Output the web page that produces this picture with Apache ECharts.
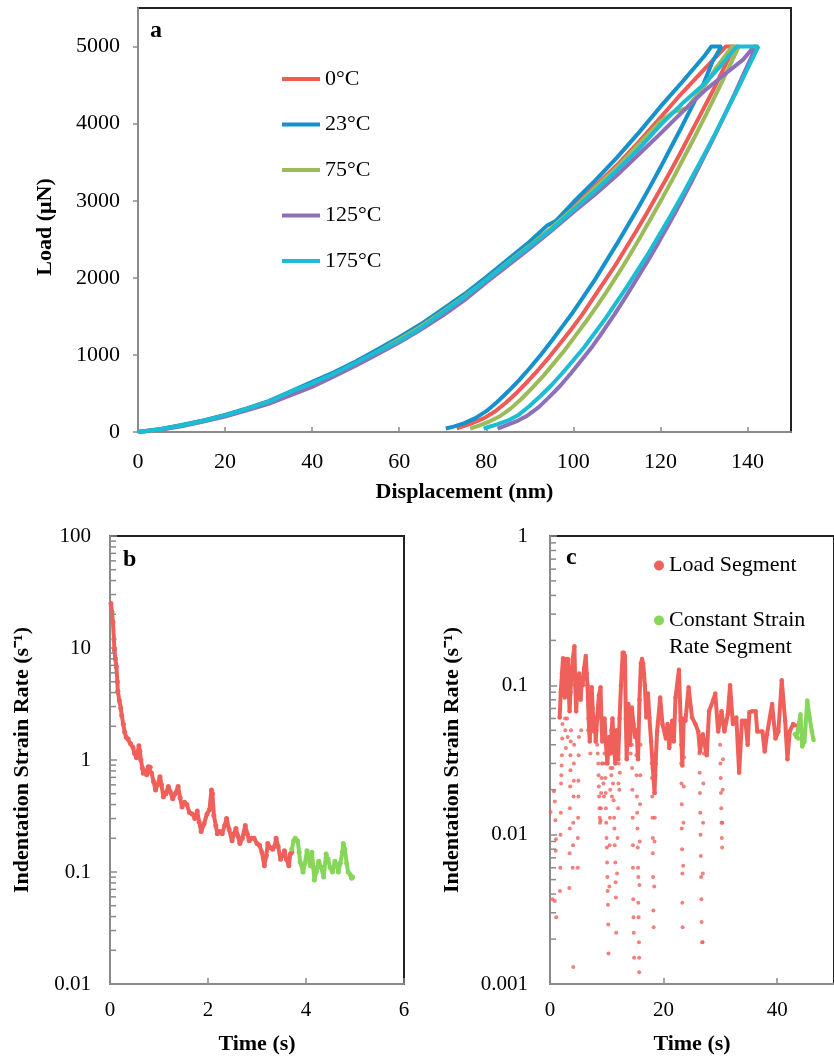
<!DOCTYPE html>
<html>
<head>
<meta charset="utf-8">
<script src="https://cdn.jsdelivr.net/npm/echarts@6/dist/echarts.min.js"></script>
<style>html,body{margin:0;padding:0;background:#fff}#chart{width:834px;height:1057px}</style>
</head>
<body>
<div id="chart"></div>
<script>
// ---------- Panel a: load–displacement curves [displacement nm, load µN] ----------
const curve0C = [[0,0],[5,35],[10,85],[15,145],[20,215],[25,300],[30,395],[35,515],[40,640],[45,765],[50,905],[55,1060],[60,1220],[65,1390],[70,1585],[75,1780],[80,2000],[85,2220],[90,2440],[95,2640],[100,2920],[105,3190],[110,3460],[115,3760],[120,4080],[125,4400],[130,4700],[135,5000],[137,5000],
  [134.5,4710],[132,4420],[129.5,4150],[127,3880],[124.5,3610],[122,3350],[119.5,3100],[117,2850],[114.5,2610],[112,2380],[109.5,2150],[107,1940],[104.5,1730],[102,1520],[99.5,1330],[97,1150],[94.5,975],[92,810],[89.5,655],[87,510],[84.5,380],[82,265],[79.5,180],[77,120],[75,80],[73.2,48]];
const curve23C = [[0,0],[5,35],[10,90],[15,150],[20,220],[25,305],[30,400],[35,525],[40,650],[45,775],[50,915],[55,1070],[60,1230],[65,1400],[70,1595],[75,1790],[80,2010],[85,2240],[90,2470],[94,2680],[96,2740],[100,2980],[105,3260],[110,3560],[115,3880],[120,4220],[125,4540],[130,4870],[131.7,5000],[134,5000],
  [132,4810],[130,4530],[127.5,4250],[125,3970],[122.5,3700],[120,3430],[117.5,3170],[115,2920],[112.5,2680],[110,2440],[107.5,2210],[105,1980],[102.5,1770],[100,1560],[97.5,1370],[95,1180],[92.5,1000],[90,830],[87.5,670],[85,525],[82.5,390],[80,270],[77.5,180],[75,115],[72.5,70],[70.7,45]];
const curve75C = [[0,0],[5,30],[10,80],[15,140],[20,210],[25,295],[30,390],[35,505],[40,625],[45,750],[50,890],[55,1040],[60,1200],[65,1370],[70,1560],[75,1760],[80,1975],[85,2200],[90,2420],[95,2650],[100,2900],[105,3170],[110,3430],[115,3730],[120,4030],[123,4150],[126,4200],[130,4480],[133,4740],[136.5,5000],[138,5000],
  [135.5,4700],[133,4410],[130.5,4120],[128,3840],[125.5,3570],[123,3300],[120.5,3040],[118,2790],[115.5,2540],[113,2300],[110.5,2070],[108,1850],[105.5,1640],[103,1440],[100.5,1250],[98,1060],[95.5,890],[93,720],[90.5,570],[88,425],[85.5,300],[83,200],[80.5,130],[78.5,85],[76.3,45]];
const curve125C = [[0,0],[5,30],[10,75],[15,135],[20,200],[25,280],[30,365],[35,475],[40,585],[45,720],[50,860],[55,1010],[60,1160],[65,1330],[70,1510],[75,1710],[80,1940],[85,2160],[90,2380],[95,2610],[100,2850],[105,3080],[110,3330],[115,3600],[120,3870],[125,4150],[130,4420],[135,4650],[139,4830],[141.5,5000],[142,5000],
  [139.5,4690],[137,4380],[134.5,4080],[132,3790],[129.5,3510],[127,3230],[124.5,2960],[122,2700],[119.5,2450],[117,2210],[114.5,1980],[112,1750],[109.5,1530],[107,1320],[104.5,1120],[102,940],[99.5,765],[97,600],[94.5,455],[92,320],[89.5,215],[87,140],[85,95],[82.6,45]];
const curve175C = [[0,0],[5,35],[10,85],[15,145],[20,215],[25,300],[30,390],[35,520],[40,630],[45,755],[50,895],[55,1040],[60,1180],[65,1350],[70,1550],[75,1750],[80,1970],[85,2190],[90,2410],[95,2630],[100,2880],[105,3130],[110,3390],[115,3670],[120,3980],[125,4260],[130,4510],[134,4760],[137.5,5000],[142.5,5000],
  [140,4710],[137.5,4420],[135,4140],[132.5,3860],[130,3590],[127.5,3330],[125,3070],[122.5,2820],[120,2580],[117.5,2340],[115,2120],[112.5,1900],[110,1690],[107.5,1480],[105,1290],[102.5,1100],[100,930],[97.5,765],[95,610],[92.5,470],[90,340],[87.5,225],[85,150],[82.5,100],[80.5,65],[79.4,45]];
const tempNames = ['0°C','23°C','75°C','125°C','175°C'];
const aXTicks = [0,20,40,60,80,100,120,140];
const aYTicks = [0,1000,2000,3000,4000,5000];

// ---------- Panel b: strain rate vs time [s, 1/s] ----------
const bLoad = [[0.02,25],[0.04,21],[0.06,17],[0.08,12],[0.09,9.6],[0.11,8],[0.13,6.8],[0.15,5],[0.16,4.1],[0.19,3.4],[0.22,2.9],[0.24,2.5],[0.27,2.1],[0.3,1.77],[0.33,1.6],[0.37,1.54],[0.42,1.4],[0.47,1.29],[0.5,1.15],[0.54,1.05],[0.57,1.2],[0.59,1.34],[0.61,1.2],[0.63,1.0],[0.66,0.85],[0.68,0.76],[0.72,0.8],[0.75,0.74],[0.78,0.87],[0.82,0.86],[0.85,0.76],[0.89,0.64],[0.93,0.54],[0.97,0.6],[1.02,0.71],[1.05,0.6],[1.09,0.47],[1.14,0.5],[1.19,0.58],[1.23,0.52],[1.28,0.45],[1.33,0.5],[1.39,0.58],[1.43,0.46],[1.47,0.38],[1.52,0.42],[1.57,0.4],[1.62,0.34],[1.68,0.33],[1.73,0.3],[1.78,0.35],[1.82,0.28],[1.86,0.23],[1.92,0.27],[1.98,0.33],[2.03,0.36],[2.07,0.54],[2.09,0.5],[2.12,0.32],[2.16,0.26],[2.19,0.22],[2.24,0.23],[2.29,0.22],[2.34,0.26],[2.38,0.3],[2.43,0.24],[2.49,0.19],[2.53,0.22],[2.57,0.245],[2.61,0.21],[2.65,0.18],[2.7,0.2],[2.76,0.26],[2.8,0.22],[2.84,0.19],[2.89,0.2],[2.94,0.2],[3.0,0.18],[3.05,0.173],[3.1,0.15],[3.15,0.114],[3.19,0.14],[3.22,0.18],[3.27,0.165],[3.32,0.16],[3.36,0.17],[3.39,0.2],[3.43,0.17],[3.48,0.13],[3.52,0.14],[3.56,0.155],[3.6,0.13],[3.65,0.114],[3.68,0.145],[3.71,0.15]];
const bConst = [[3.71,0.16],[3.75,0.19],[3.78,0.2],[3.83,0.19],[3.86,0.15],[3.88,0.123],[3.94,0.1],[3.98,0.12],[4.02,0.155],[4.06,0.13],[4.09,0.114],[4.12,0.15],[4.15,0.11],[4.17,0.085],[4.21,0.1],[4.26,0.125],[4.31,0.11],[4.36,0.09],[4.41,0.145],[4.45,0.13],[4.49,0.11],[4.54,0.1],[4.59,0.125],[4.63,0.115],[4.66,0.1],[4.7,0.12],[4.74,0.15],[4.76,0.18],[4.79,0.16],[4.83,0.12],[4.86,0.1],[4.9,0.095],[4.93,0.088],[4.95,0.09]];

// ---------- Panel c: strain rate vs time [s, 1/s] ----------
const cLoadLine = [[1.7,0.061],[1.9,0.09],[2.1,0.12],[2.3,0.152],[2.45,0.1],[2.6,0.083],[2.75,0.12],[2.9,0.15],[3.05,0.14],[3.15,0.15],[3.3,0.09],[3.45,0.067],[3.6,0.09],[3.8,0.12],[4.0,0.15],[4.3,0.183],[4.45,0.1],[4.6,0.067],[4.8,0.09],[5.0,0.11],[5.15,0.12],[5.4,0.08],[5.6,0.11],[5.75,0.1],[6.0,0.13],[6.3,0.157],[6.45,0.12],[6.6,0.1],[6.8,0.06],[7.0,0.042],[7.2,0.07],[7.35,0.097],[7.5,0.07],[7.75,0.049],[7.9,0.06],[8.05,0.042],[8.3,0.06],[8.6,0.085],[8.9,0.097],[9.05,0.06],[9.2,0.042],[9.4,0.05],[9.6,0.06],[9.85,0.04],[10.1,0.03],[10.4,0.045],[10.7,0.035],[10.85,0.05],[11.0,0.06],[11.25,0.04],[11.5,0.03],[11.75,0.05],[12.0,0.032],[12.25,0.06],[12.5,0.1],[12.8,0.165],[13.0,0.165],[13.2,0.157],[13.35,0.06],[13.5,0.032],[13.65,0.05],[13.8,0.075],[13.95,0.05],[14.1,0.04],[14.25,0.06],[14.4,0.071],[14.7,0.055],[15.0,0.045],[15.25,0.05],[15.5,0.032],[15.75,0.08],[16.0,0.14],[16.2,0.15],[16.4,0.14],[16.55,0.12],[16.7,0.1],[16.95,0.061],[17.1,0.075],[17.25,0.088],[17.5,0.061],[17.8,0.042],[18.1,0.028],[18.4,0.019],[18.6,0.03],[18.85,0.049],[19.4,0.083],[19.8,0.055],[20.4,0.044],[20.7,0.055],[21.0,0.038],[21.5,0.058],[21.8,0.042],[22.1,0.083],[22.7,0.127],[23.0,0.058],[23.3,0.029],[23.55,0.06],[23.85,0.058],[24.4,0.097],[25.0,0.061],[25.6,0.055],[26.1,0.049],[26.4,0.036],[26.9,0.047],[27.6,0.034],[28.0,0.067],[28.7,0.079],[29.1,0.088],[29.6,0.049],[30.2,0.067],[30.7,0.049],[31.3,0.064],[31.7,0.1],[32.2,0.055],[32.8,0.061],[33.3,0.026],[33.8,0.058],[34.4,0.058],[34.8,0.04],[35.1,0.066],[35.6,0.067],[36.2,0.067],[36.5,0.049],[37.4,0.049],[37.8,0.036],[38.2,0.047],[39.1,0.075],[39.7,0.044],[40.2,0.049],[40.8,0.108],[41.4,0.058],[41.8,0.032],[42.2,0.049],[42.8,0.055],[43.1,0.054]];
const cLoadDips = [[0.1,0.0142],[0.45,0.0037],[0.85,0.0036],[1.1,0.0028],[0.7,0.0195],[0.85,0.0167],[0.95,0.0125],[1.05,0.0093],[1.0,0.0078],
  [1.75,0.0042],[1.8,0.006],[1.85,0.01],[1.9,0.014],[1.95,0.022],[2.0,0.025],[2.05,0.029],[2.1,0.034],[2.15,0.044],[2.2,0.055],
  [2.45,0.12],[2.5,0.1],[2.55,0.085],[2.65,0.06],[2.7,0.05],[2.8,0.038],[3.0,0.06],[3.1,0.045],
  [3.4,0.0044],[3.45,0.0075],[3.5,0.011],[3.5,0.015],[3.55,0.021],[3.6,0.027],[3.6,0.034],[3.65,0.042],[3.7,0.05],
  [4.1,0.0013],[4.0,0.006],[4.05,0.0085],[4.1,0.012],[4.15,0.018],[4.2,0.023],[4.2,0.03],[4.25,0.04],
  [4.9,0.006],[4.9,0.0095],[4.95,0.013],[5.0,0.018],[5.0,0.023],[5.05,0.034],[5.1,0.045],[5.5,0.05],[6.7,0.05],[7.1,0.035],
  [8.2,0.05],[8.3,0.04],[8.4,0.035],[8.5,0.03],[8.55,0.025],[8.6,0.021],[8.65,0.018],[8.7,0.015],[8.75,0.013],[8.8,0.012],[8.9,0.0125],[8.95,0.015],[9.0,0.019],[9.1,0.024],[9.15,0.03],
  [9.3,0.03],[9.4,0.022],[9.5,0.018],[9.6,0.035],[9.7,0.03],[9.75,0.024],[9.8,0.019],[9.85,0.015],[9.9,0.012],[9.95,0.0095],[10.0,0.0082],[10.05,0.0065],[10.1,0.0052],[10.15,0.0042],[10.2,0.0034],[10.25,0.0025],[10.3,0.0016],[10.45,0.0045],[10.5,0.0085],[10.55,0.013],[10.6,0.02],[10.65,0.028],
  [10.8,0.025],[10.9,0.018],[11.0,0.028],[11.1,0.022],[11.2,0.017],[11.3,0.013],[11.35,0.011],[11.4,0.0085],[11.5,0.0065],[11.55,0.0048],[11.6,0.0038],[11.65,0.0022],[11.8,0.0055],[11.9,0.0095],[12.0,0.015],[12.05,0.022],[12.1,0.03],[12.2,0.02],[12.3,0.026],
  [13.45,0.045],[13.6,0.04],[13.9,0.04],[14.2,0.035],
  [14.4,0.04],[14.45,0.028],[14.5,0.02],[14.55,0.013],[14.6,0.0085],[14.6,0.006],[14.65,0.0037],[14.7,0.0028],[14.75,0.0022],[14.8,0.0015],
  [15.2,0.034],[15.25,0.025],[15.3,0.018],[15.35,0.014],[15.4,0.011],[15.45,0.0082],[15.5,0.006],[15.55,0.0052],[15.55,0.0035],[15.6,0.0028],[15.65,0.0019],[15.7,0.0015],[15.7,0.0012],[15.75,0.0046],[15.8,0.009],[15.85,0.016],[15.9,0.025],[15.95,0.04],
  [17.9,0.03],[17.95,0.024],[18.0,0.018],[18.05,0.013],[18.1,0.0095],[18.1,0.0075],[18.15,0.0052],[18.2,0.0031],[18.25,0.0024],[18.35,0.0045],[18.4,0.009],[18.45,0.013],[18.5,0.019],[18.55,0.025],[18.6,0.035],
  [23.05,0.04],[23.1,0.03],[23.15,0.022],[23.2,0.016],[23.2,0.011],[23.25,0.008],[23.3,0.0055],[23.3,0.0035],[23.35,0.0024],[23.45,0.0062],[23.5,0.012],[23.55,0.021],[23.6,0.033],
  [26.3,0.035],[26.35,0.026],[26.4,0.019],[26.45,0.014],[26.5,0.01],[26.55,0.0072],[26.6,0.0052],[26.65,0.0037],[26.7,0.0026],[26.8,0.0019],[26.85,0.0019],[26.9,0.0055],[26.95,0.012],[27.0,0.022],[27.05,0.035],
  [29.95,0.04],[30.0,0.03],[30.05,0.024],[30.1,0.019],[30.15,0.015],[30.2,0.012],[30.25,0.0095],[30.3,0.0082],[30.35,0.012],[30.4,0.02],[30.45,0.032]];
const cConst = [[43.1,0.047],[43.4,0.045],[43.7,0.044],[44.1,0.064],[44.4,0.039],[44.8,0.042],[45.3,0.079],[45.7,0.061],[46.1,0.049],[46.4,0.043]];
const bXTicks = [0,2,4,6];
const cXTicks = [0,20,40];

// ---------- styling ----------
const FONT = '"Liberation Serif", "Times New Roman", serif';
const AXIS_GRAY = '#8a8a8a';
const tempColors = ['#EE5A55','#1591CB','#9BBB59','#8E70B8','#1ABDD3'];
const RED = '#F0605B', GREEN = '#86D65A';

function minorVals(decades) {
  const out = [];
  decades.forEach(d => { for (let k = 2; k <= 9; k++) out.push([0, +(d * k).toPrecision(3)]); });
  return out;
}
function minorTickItem(params, api) {
  const p = api.coord([api.value(0), api.value(1)]);
  return { type: 'line', shape: { x1: p[0], y1: p[1], x2: p[0] + 6, y2: p[1] },
           style: { stroke: AXIS_GRAY, lineWidth: 1.5 } };
}

const labelStyle = { fontFamily: FONT, fontSize: 21, color: '#000' };
const labelStyleA = { fontFamily: FONT, fontSize: 22, color: '#000' };
const nameStyle = { fontFamily: FONT, fontSize: 22, fontWeight: 'bold', color: '#000' };
const axisLine = { show: true, lineStyle: { color: AXIS_GRAY, width: 2 } };
const letterStyle = { fontFamily: FONT, fontSize: 24, fontWeight: 'bold', color: '#000' };

const chart = echarts.init(document.getElementById('chart'), null, { renderer: 'canvas' });
chart.setOption({
  animation: false,
  backgroundColor: '#fff',
  title: [
    { text: 'a', left: 145, top: 14, textStyle: letterStyle },
    { text: 'b', left: 118, top: 543, textStyle: letterStyle },
    { text: 'c', left: 561, top: 541, textStyle: letterStyle }
  ],
  grid: [
    { left: 138, top: 8, width: 653, height: 424, show: true, borderColor: '#222', borderWidth: 2, containLabel: false },
    { left: 110, top: 536, width: 294, height: 448, show: true, borderColor: '#222', borderWidth: 2, containLabel: false },
    { left: 550, top: 536, width: 290, height: 448, show: true, borderColor: '#222', borderWidth: 2, containLabel: false }
  ],
  legend: [
    { data: tempNames, orient: 'vertical', left: 277, top: 62, itemWidth: 38, itemHeight: 4, icon: 'rect', itemGap: 21.5,
      textStyle: { fontFamily: FONT, fontSize: 22, color: '#000', lineHeight: 24 } },
    { data: ['Load Segment'], orient: 'vertical', left: 649, top: 547, itemWidth: 10, itemHeight: 10, icon: 'circle',
      textStyle: { fontFamily: FONT, fontSize: 22, color: '#000', lineHeight: 27 } },
    { data: ['Constant Strain Rate Segment'], orient: 'vertical', left: 649, top: 575, itemWidth: 10, itemHeight: 10, icon: 'circle',
      formatter: () => ' \nConstant Strain\nRate Segment',
      textStyle: { fontFamily: FONT, fontSize: 22, color: '#000', lineHeight: 27 } }
  ],
  xAxis: [
    { type: 'value', gridIndex: 0, min: 0, max: 150, interval: 20,
      name: 'Displacement (nm)', nameLocation: 'middle', nameGap: 49, nameTextStyle: nameStyle,
      axisLine, axisTick: { inside: true, length: 5, lineStyle: { color: AXIS_GRAY, width: 1.5 }, customValues: aXTicks },
      axisLabel: Object.assign({ margin: 19, customValues: aXTicks, formatter: v => String(v) }, labelStyleA), splitLine: { show: false } },
    { type: 'value', gridIndex: 1, min: 0, max: 6, interval: 2,
      name: 'Time (s)', nameLocation: 'middle', nameGap: 49, nameTextStyle: nameStyle,
      axisLine, axisTick: { inside: true, length: 6, lineStyle: { color: AXIS_GRAY, width: 1.5 }, customValues: bXTicks },
      axisLabel: Object.assign({ margin: 16, customValues: bXTicks }, labelStyle), splitLine: { show: false } },
    { type: 'value', gridIndex: 2, min: 0, max: 50, interval: 20,
      name: 'Time (s)', nameLocation: 'middle', nameGap: 49, nameTextStyle: nameStyle,
      axisLine, axisTick: { inside: true, length: 6, lineStyle: { color: AXIS_GRAY, width: 1.5 }, customValues: cXTicks },
      axisLabel: Object.assign({ margin: 16, customValues: cXTicks }, labelStyle), splitLine: { show: false } }
  ],
  yAxis: [
    { type: 'value', gridIndex: 0, min: 0, max: 5500, interval: 1000,
      name: 'Load (μN)', nameLocation: 'middle', nameGap: 82, nameTextStyle: Object.assign({ padding: [0, 14, 0, 0] }, nameStyle),
      axisLine, axisTick: { inside: false, length: 5, lineStyle: { color: AXIS_GRAY, width: 1.5 }, customValues: aYTicks },
      axisLabel: Object.assign({ margin: 18, customValues: aYTicks, formatter: v => String(v) }, labelStyleA), splitLine: { show: false } },
    { type: 'log', logBase: 10, gridIndex: 1, min: 0.01, max: 100,
      name: 'Indentation Strain Rate (s⁻¹)', nameLocation: 'middle', nameGap: 77, nameTextStyle: nameStyle,
      axisLine, axisTick: { inside: true, length: 7, lineStyle: { color: AXIS_GRAY, width: 1.5 } },
      axisLabel: Object.assign({ margin: 19 }, labelStyle), splitLine: { show: false }, minorTick: { show: false } },
    { type: 'log', logBase: 10, gridIndex: 2, min: 0.001, max: 1,
      name: 'Indentation Strain Rate (s⁻¹)', nameLocation: 'middle', nameGap: 87, nameTextStyle: nameStyle,
      axisLine, axisTick: { inside: true, length: 7, lineStyle: { color: AXIS_GRAY, width: 1.5 } },
      axisLabel: Object.assign({ margin: 22 }, labelStyle), splitLine: { show: false }, minorTick: { show: false } }
  ],
  series: [
    ...[curve0C, curve23C, curve75C, curve125C, curve175C].map((d, i) => ({
      name: tempNames[i], type: 'line', xAxisIndex: 0, yAxisIndex: 0, data: d,
      showSymbol: false, symbol: 'none', lineStyle: { color: tempColors[i], width: 4 }, itemStyle: { color: tempColors[i] },
      smooth: false, z: 3 + i
    })),
    { name: 'Load Segment', type: 'line', xAxisIndex: 1, yAxisIndex: 1, data: bLoad, symbol: 'circle', symbolSize: 5,
      showSymbol: true, lineStyle: { color: RED, width: 4 }, itemStyle: { color: RED } },
    { name: 'Constant Strain Rate Segment', type: 'line', xAxisIndex: 1, yAxisIndex: 1, data: bConst, symbol: 'circle', symbolSize: 5,
      showSymbol: true, lineStyle: { color: GREEN, width: 4 }, itemStyle: { color: GREEN } },
    { name: 'Load Segment', type: 'line', xAxisIndex: 2, yAxisIndex: 2, data: cLoadLine, symbol: 'circle', symbolSize: 4.5,
      showSymbol: true, lineStyle: { color: RED, width: 4 }, itemStyle: { color: RED } },
    { name: 'Load Segment', type: 'scatter', xAxisIndex: 2, yAxisIndex: 2, data: cLoadDips, symbolSize: 4,
      itemStyle: { color: RED } },
    { name: 'Constant Strain Rate Segment', type: 'line', xAxisIndex: 2, yAxisIndex: 2, data: cConst, symbol: 'circle', symbolSize: 4.5,
      showSymbol: true, lineStyle: { color: GREEN, width: 4 }, itemStyle: { color: GREEN } },
    { name: 'minorTicksB', type: 'custom', coordinateSystem: 'cartesian2d', xAxisIndex: 1, yAxisIndex: 1,
      data: minorVals([0.01, 0.1, 1, 10]), renderItem: minorTickItem, silent: true, clip: false, z: 10 },
    { name: 'minorTicksC', type: 'custom', coordinateSystem: 'cartesian2d', xAxisIndex: 2, yAxisIndex: 2,
      data: minorVals([0.001, 0.01, 0.1]), renderItem: minorTickItem, silent: true, clip: false, z: 10 }
  ]
});
</script>
</body>
</html>
